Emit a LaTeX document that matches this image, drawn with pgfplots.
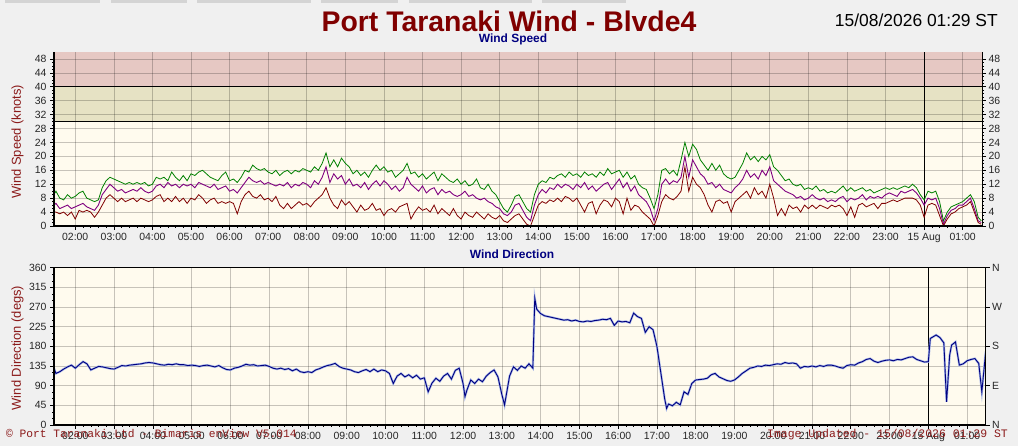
\documentclass[border=0pt]{standalone}
\usepackage{fontspec}
\setmainfont{Liberation Sans}
\newfontfamily\monofont{Liberation Mono}
\usepackage{pgfplots}
\pgfplotsset{compat=1.18}
\usepackage{pgfplotstable}
\definecolor{bg}{HTML}{F0F0F0}
\definecolor{cream}{HTML}{FFFBEE}
\definecolor{redband}{HTML}{E6C8C3}
\definecolor{yelband}{HTML}{E6E2C4}
\definecolor{gust}{HTML}{008000}
\definecolor{avgc}{HTML}{800080}
\definecolor{lull}{HTML}{800000}
\definecolor{dirc}{HTML}{000080}
\definecolor{dirlight}{HTML}{A8B8E8}
\definecolor{titlered}{HTML}{800000}
\definecolor{navyc}{HTML}{000080}
\definecolor{labred}{HTML}{8B1A1A}

\pgfplotstableread{
t g p r
1.45 9 6 4
1.5 10 6.5 4
1.6 8 5 3.5
1.7 7.5 5.5 4
1.8 9 6 3
1.9 8 5 4
2.0 8.5 5.5 2
2.1 9.5 6 4.5
2.2 10 6.5 4
2.3 8 5.5 4.5
2.4 7.5 5 4
2.5 7 4.5 2.5
2.6 7.5 6 4
2.7 11 9 6
2.8 13 10.5 8
2.9 14 12 9
3.0 13.5 11 8
3.1 13 10 7
3.2 12.5 10.5 8
3.3 12 9.5 7
3.4 12.5 10 7.5
3.5 12 10.5 8
3.6 12.5 10 7
3.7 12 11 8
3.8 12.5 10 7.5
3.9 11.5 9.5 7
4.0 12 10 7.5
4.1 14 11.5 8.5
4.2 13.5 12 9
4.3 14 11 7
4.4 13 12.5 8
4.5 15.5 11.5 7
4.6 14 12 8.5
4.7 13 11 7
4.8 14.5 12 8
4.9 13 11.5 6.5
5.0 15 12 8
5.1 14.5 11 7.5
5.2 15.5 12.5 9
5.3 16 12 8
5.4 15 11.5 6.5
5.5 14 11 7.5
5.6 13.5 12 8
5.7 13 10.5 6.5
5.8 14.5 11 7
5.9 15.5 11.5 6.5
6.0 13 10 7
6.1 13.5 10.5 6.5
6.2 12.5 9.5 3.5
6.3 14 11 7
6.4 16 12.5 9
6.5 15.5 14 10
6.6 17.5 13 8.5
6.7 16.5 12.5 8
6.8 16 13 9
6.9 16.5 12 7.5
7.0 15.5 12.5 8
7.1 15 12 7
7.2 16 11.5 8.5
7.3 14.5 12 6
7.4 15.5 11.5 5
7.5 16 12.5 6.5
7.6 15 11 5
7.7 16 12 6
7.8 15.5 11.5 7
7.9 16.5 12.5 6
8.0 16 12 6.5
8.1 15.5 11 5.5
8.2 17 13 7
8.3 16 12 8
8.4 18 14 9
8.5 21 17 11
8.6 17 12.5 8
8.7 19 15 6
8.8 17 13.5 5
8.9 19.5 14.5 7.5
9.0 18 12 6
9.1 17 13.5 7
9.2 15 11.5 5.5
9.3 16 12 4
9.4 14.5 11 6
9.5 15.5 12.5 4.5
9.6 14 10.5 5
9.7 16 12 6.5
9.8 17.5 13 4.5
9.9 16 11.5 5
10.0 17 13 3
10.1 15.5 12 4.5
10.2 16 10.5 5
10.3 14 11.5 4
10.4 15 10 5.5
10.5 16 11 6
10.6 18 14 6.5
10.7 15 12 2
10.8 15.5 11 4
10.9 14 10 5.5
11.0 15 11.5 4.5
11.1 13.5 9.5 5
11.2 14.5 10.5 4
11.3 15.5 11 6
11.4 13 9 3.5
11.5 15 10.5 5
11.6 14 9.5 4
11.7 13 10 3
11.8 12.5 9 5
11.9 13.5 8.5 3
12.0 12 9 2
12.1 13 10 4
12.2 11.5 8.5 3
12.3 12 9 2.5
12.4 13.5 8 4
12.5 11 7.5 3
12.6 10.5 8 2
12.7 12 7 3.5
12.8 10 6.5 2.5
12.9 9 5.5 2
13.0 7 5 3
13.1 5 3.5 1.5
13.2 4 3 1
13.3 6 4 2
13.4 8.5 6 3
13.5 9 6.5 3.5
13.6 7 4.5 2
13.7 5 2.5 0.5
13.8 4 1.5 0
13.9 9 6 3
14.0 12 9 6
14.1 13 10.5 7
14.2 12.5 9.5 6.5
14.3 14 11 7.5
14.4 13.5 10.5 7
14.5 14.5 12 8
14.6 15 11 7
14.7 14 12 8.5
14.8 15.5 11.5 8
14.9 14.5 10.5 7
15.0 15 12 8
15.1 14 11 6
15.2 15.5 12.5 4
15.3 14.5 10.5 6.5
15.4 15 11.5 7
15.5 14 10 3.5
15.6 15.5 11 6
15.7 14.5 12 7.5
15.8 16.5 12.5 7
15.9 15 10.5 5.5
16.0 15.5 12 8
16.1 16 13.5 7
16.2 14 11 3.5
16.3 15.5 12.5 8
16.4 13.5 10 4.5
16.5 14.5 11.5 6
16.6 12 9 5.5
16.7 11 8 4
16.8 10.5 7 3
16.9 8 5 2
17.0 5 1.5 0
17.1 9 5 3
17.2 16 12 7
17.3 16.5 13.5 9
17.4 15 12 8
17.5 16 13 7.5
17.6 14.5 12.5 8.5
17.7 19 14 10
17.8 24 20 17
17.9 20 14 10
18.0 23.5 19 14
18.1 22 17 12
18.2 19 15 11
18.3 17.5 14 9
18.4 16 12 6
18.5 18 12.5 4
18.6 16 11 7
18.7 17.5 12 7.5
18.8 15 10.5 6.5
18.9 14 10 7
19.0 13.5 9.5 4
19.1 14 11 7
19.2 16 12 8
19.3 18 13.5 9
19.4 21 16 10
19.5 19 14 8
19.6 20 15 11
19.7 18.5 13.5 9
19.8 20 16 10
19.9 19 14.5 8
20.0 20.5 17 12
20.1 17 13 8
20.2 16 12 3
20.3 14.5 11 5
20.4 13 10 3
20.5 13.5 9.5 6
20.6 12 9 5
20.7 11.5 8 5.5
20.8 12 8.5 4
20.9 10.5 7.5 6
21.0 11 8 5
21.1 10.5 9 6
21.2 11.5 8 5
21.3 10 7.5 6
21.4 10.5 8 5.5
21.5 9.5 7 5
21.6 10 7.5 6
21.7 9.5 7 5.5
21.8 10.5 8 6
21.9 11.5 8.5 5
22.0 10 7 3
22.1 11 8 5.5
22.2 10 7.5 2.5
22.3 10.5 8 6
22.4 11 9 6.5
22.5 10 7.5 5.5
22.6 10.5 8.5 6
22.7 9.5 8 6.5
22.8 10 8.5 5
22.9 10.5 8 6.5
23.0 11 9 6.5
23.1 10.5 9.5 7
23.2 11 9 7.5
23.3 10.5 8.5 7
23.4 11 10 7.5
23.5 11.5 9.5 8
23.6 11 10 8
23.7 12 10.5 8
23.8 11 9.5 7.5
23.9 9 8 6
24.0 7.5 6 2.5
24.1 10 8 6
24.2 9.5 7.5 6.5
24.3 10 8 6
24.4 7 5 3
24.5 1.5 0.5 0
24.6 4 3 2
24.7 5.5 4.5 3.5
24.8 6 5 4
24.9 6.5 6 5
25.0 7 6 5.5
25.1 8 7 6
25.2 9 8 7
25.3 7 5 4
25.4 2.5 1.5 1
25.48 1.5 1 0.5
}\speed

\pgfplotstableread{
t d
1.45 130
1.5 118
1.6 122
1.7 128
1.8 133
1.9 137
2.0 130
2.1 138
2.2 145
2.3 140
2.4 126
2.5 130
2.6 134
2.7 133
2.8 131
2.9 129
3.0 128
3.1 132
3.2 136
3.3 135
3.4 137
3.5 138
3.6 139
3.7 140
3.8 142
3.9 143
4.0 142
4.1 140
4.2 138
4.3 137
4.4 139
4.5 138
4.6 140
4.7 138
4.8 138
4.9 136
5.0 137
5.1 136
5.2 134
5.3 136
5.4 137
5.5 135
5.6 133
5.7 136
5.8 131
5.9 127
6.0 126
6.1 130
6.2 132
6.3 135
6.4 139
6.5 137
6.6 138
6.7 135
6.8 136
6.9 137
7.0 134
7.1 130
7.2 128
7.3 130
7.4 127
7.5 129
7.6 124
7.7 128
7.8 122
7.9 120
8.0 122
8.1 120
8.2 126
8.3 129
8.4 133
8.5 136
8.6 138
8.7 141
8.8 134
8.9 130
9.0 128
9.1 126
9.2 122
9.3 120
9.4 124
9.5 127
9.6 122
9.7 128
9.8 122
9.9 126
10.0 124
10.1 118
10.2 95
10.3 112
10.4 118
10.5 110
10.6 115
10.7 108
10.8 114
10.9 105
11.0 108
11.1 76
11.2 96
11.3 107
11.4 100
11.5 112
11.6 118
11.7 105
11.8 125
11.9 130
12.0 95
12.05 65
12.1 80
12.2 103
12.3 95
12.4 105
12.5 99
12.6 112
12.7 120
12.8 126
12.9 110
13.0 70
13.07 46
13.2 112
13.3 133
13.4 125
13.5 135
13.6 130
13.7 140
13.8 130
13.85 290
13.9 265
14.0 255
14.1 250
14.2 248
14.3 246
14.4 244
14.5 242
14.6 240
14.7 241
14.8 238
14.9 240
15.0 237
15.1 236
15.2 238
15.3 237
15.4 239
15.5 240
15.6 242
15.7 241
15.8 244
15.9 228
16.0 238
16.1 236
16.2 237
16.3 234
16.4 256
16.5 248
16.6 244
16.7 212
16.8 225
16.9 218
17.0 180
17.1 120
17.2 60
17.25 38
17.3 48
17.4 44
17.5 52
17.6 46
17.7 76
17.8 70
17.9 95
18.0 103
18.1 104
18.2 105
18.3 107
18.4 115
18.5 118
18.6 110
18.7 106
18.8 102
18.9 100
19.0 103
19.1 110
19.2 118
19.3 124
19.4 130
19.5 132
19.6 135
19.7 134
19.8 137
19.9 136
20.0 138
20.1 140
20.2 139
20.3 143
20.4 141
20.5 142
20.6 140
20.7 130
20.8 134
20.9 133
21.0 135
21.1 133
21.2 136
21.3 134
21.4 137
21.5 137
21.6 135
21.7 132
21.8 130
21.9 136
22.0 138
22.1 137
22.2 142
22.3 145
22.4 150
22.5 152
22.6 146
22.7 143
22.8 146
22.9 148
23.0 149
23.1 147
23.2 150
23.3 149
23.4 152
23.5 155
23.6 156
23.7 150
23.8 147
23.9 144
24.0 145
24.05 198
24.2 206
24.3 200
24.4 188
24.47 53
24.55 160
24.6 183
24.7 190
24.8 137
24.9 140
25.0 147
25.1 150
25.2 152
25.3 141
25.38 76
25.48 168
}\direction

\pgfplotsset{
  wind/.style={
    scale only axis,
    anchor=south west,
    xmin=1.45,
    xtick={2,3,...,25},
    xticklabels={02:00,03:00,04:00,05:00,06:00,07:00,08:00,09:00,10:00,11:00,12:00,13:00,14:00,15:00,16:00,17:00,18:00,19:00,20:00,21:00,22:00,23:00,15 Aug,01:00},
    minor x tick num=4,
    tick pos=left,
    tick align=outside,
    major tick length=4bp,
    minor tick length=2bp,
    tick style={black, line width=0.6bp},
    axis line style={black, line width=0.8bp},
    ticklabel style={font=\fontsize{10.5}{12}\selectfont, text=black!85},
    /pgf/number format/assume math mode=true,
    axis background/.style={fill=cream},
    clip mode=individual,
  },
  gridl/.style={black, opacity=0.22, line width=0.6bp, forget plot},
  rightax/.style={
    scale only axis,
    anchor=south west,
    xmin=1.45,
    axis x line=none,
    axis y line*=right,
    tick align=outside,
    major tick length=4bp,
    minor tick length=2bp,
    tick style={black, line width=0.6bp},
    axis line style={black, line width=0.8bp},
    ticklabel style={font=\fontsize{10.5}{12}\selectfont, text=black!85},
    yticklabel style={anchor=west, xshift=-1bp},
    /pgf/number format/assume math mode=true,
  }
}

\begin{document}
\begin{tikzpicture}[x=1bp,y=1bp]
\fill[bg] (0,0) rectangle (1018,446);
\fill[black!17] (5,443.3) rectangle (100,446);
\fill[black!17] (111,443.3) rectangle (187,446);
\fill[black!17] (197,443.3) rectangle (311,446);
\fill[black!17] (321,443.3) rectangle (398,446);
\fill[black!17] (409,443.3) rectangle (532,446);
\fill[black!17] (542,443.3) rectangle (626,446);

% ---------- wind speed ----------
\begin{axis}[wind, at={(54bp,220bp)}, width=928bp, height=174bp,
  xmax=25.5, ymin=0, ymax=50,
  ytick={0,4,...,48}, minor y tick num=3]
  \addplot[fill=yelband, draw=none, forget plot] coordinates {(1.45,30) (25.5,30) (25.5,40) (1.45,40)};
  \addplot[fill=redband, draw=none, forget plot] coordinates {(1.45,40) (25.5,40) (25.5,50) (1.45,50)};
  \pgfplotsinvokeforeach{2,3,...,25}{\addplot[gridl] coordinates {(#1,0) (#1,50)};}
  \pgfplotsinvokeforeach{4,8,...,48}{\addplot[gridl] coordinates {(1.45,#1) (25.5,#1)};}
  \addplot[black, line width=0.8bp] coordinates {(1.45,30) (25.5,30)};
  \addplot[black, line width=0.8bp] coordinates {(1.45,40) (25.5,40)};
  \addplot[black, line width=0.8bp] coordinates {(24,0) (24,50)};
  \addplot[gust, line width=0.8bp] table[x=t, y=g] {\speed};
  \addplot[avgc, line width=0.9bp] table[x=t, y=p] {\speed};
  \addplot[lull, line width=0.8bp] table[x=t, y=r] {\speed};
  \draw[black, line width=1.8bp] (rel axis cs:0,1) -- (rel axis cs:0,0) -- (rel axis cs:1,0);
\end{axis}
\begin{axis}[rightax, at={(54bp,220bp)}, width=928bp, height=174bp,
  xmax=25.5, ymin=0, ymax=50, ytick={0,4,...,48}, minor y tick num=3]
  \addplot[draw=none] coordinates {(1.45,0) (25.5,50)};
\end{axis}

% ---------- wind direction ----------
\begin{axis}[wind, at={(54bp,21bp)}, width=931.7bp, height=157.3bp,
  xmax=25.48, ymin=0, ymax=360,
  ytick={0,45,...,360}, minor y tick num=2]
  \pgfplotsinvokeforeach{2,3,...,25}{\addplot[gridl] coordinates {(#1,0) (#1,360)};}
  \pgfplotsinvokeforeach{45,90,...,315}{\addplot[gridl] coordinates {(1.45,#1) (25.48,#1)};}
  \addplot[black, line width=0.8bp] coordinates {(24,0) (24,360)};
  \addplot[dirlight, line width=2.2bp] table[x=t, y=d] {\direction};
  \addplot[dirc, line width=0.9bp] table[x=t, y=d] {\direction};
  \draw[black, line width=1.8bp] (rel axis cs:0,1) -- (rel axis cs:0,0) -- (rel axis cs:1,0);
\end{axis}
\begin{axis}[rightax, at={(54bp,21bp)}, width=931.7bp, height=157.3bp,
  xmax=25.48, ymin=0, ymax=360, ytick={0,90,180,270,360},
  yticklabels={N,E,S,W,N}]
  \addplot[draw=none] coordinates {(1.45,0) (25.48,360)};
\end{axis}

% ---------- texts ----------
\node[anchor=base, text=titlered, font=\fontsize{28.5}{30}\selectfont\bfseries, inner sep=0] at (509,414.5) {Port Taranaki Wind - Blvde4};
\node[anchor=base east, font=\fontsize{17.5}{20}\selectfont, inner sep=0] at (998,419) {15/08/2026 01:29 ST};
\node[anchor=base, text=navyc, font=\fontsize{12}{14}\selectfont\bfseries, inner sep=0] at (513,403.5) {Wind Speed};
\node[anchor=base, text=navyc, font=\fontsize{12}{14}\selectfont\bfseries, inner sep=0] at (512,187.7) {Wind Direction};
\node[rotate=90, text=labred, font=\fontsize{13}{15}\selectfont, inner sep=0] at (17.5,304) {Wind Speed (knots)};
\node[rotate=90, text=labred, font=\fontsize{13}{15}\selectfont, inner sep=0] at (17.5,98) {Wind Direction (degs)};
\node[anchor=base west, text=labred, font=\monofont\fontsize{11.3}{12}\selectfont, inner sep=0] at (6,8.5) {© Port Taranaki Ltd - Bimaris enView V5.014};
\node[anchor=base east, text=labred, font=\monofont\fontsize{11.5}{12}\selectfont, inner sep=0] at (1008,8.5) {Image Updated - 15/08/2026 01:29 ST};
\pgfresetboundingbox
\path[use as bounding box] (0,0) rectangle (1018,446);
\end{tikzpicture}
\end{document}
